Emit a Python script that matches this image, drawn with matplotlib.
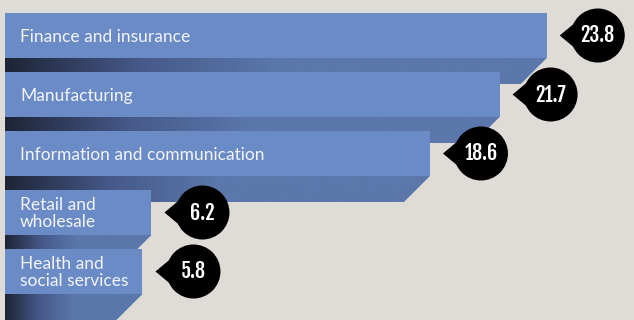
import numpy as np
import matplotlib.pyplot as plt
from matplotlib.patches import Polygon, Ellipse
from matplotlib.colors import LinearSegmentedColormap

# share of employment by sector (%)
sectors = ["Finance and insurance", "Manufacturing", "Information and communication",
           "Retail and\nwholesale", "Health and\nsocial services"]
shares = np.array([23.8, 21.7, 18.6, 6.2, 5.8])
share_labels = ["23.8", "21.7", "18.6", "6.2", "5.8"]

W, H = 634, 320
K = 22.46          # pixels per percentage point
zero_px = 12.2     # pixel column of the value 0
start_px = 5       # bars are padded slightly left of zero
pad = (zero_px - start_px) / K

row_top = 13
row_step = 59
bar_h = 45
depth = 26         # height of the bevel strip under each bar

bg = "#dfdcd7"
bar_blue = "#6a8bc6"
shade_end = "#5b77ab"
shade_dark = "#1e2436"
shade_cmap = LinearSegmentedColormap.from_list("shade", [shade_dark, "#46598a", shade_end])

label_font = ["Lato", "DejaVu Sans"]
value_font = ["Fjalla One", "Oswald", "DejaVu Sans"]

fig = plt.figure(figsize=(W / 100, H / 100), dpi=100)
fig.patch.set_facecolor(bg)
ax = fig.add_axes([0, 0, 1, 1])
ax.set_facecolor(bg)
ax.axis("off")

xlim = (-zero_px / K, (W - zero_px) / K)
ylim = (H, 0)

centers = row_top + row_step * np.arange(len(shares)) + bar_h / 2

# bevel strips with a dark-to-blue gradient
grad = np.clip(np.linspace(0, 1, 512) / 0.5, 0, 1)[None, :]
for c, v in zip(centers, shares):
    y0 = c + bar_h / 2
    y1 = y0 + depth
    cham = depth / K
    poly = Polygon([(-pad, y0), (v, y0), (v - cham, y1), (-pad, y1)],
                   closed=True, facecolor="none", edgecolor="none")
    ax.add_patch(poly)
    im = ax.imshow(grad, cmap=shade_cmap, aspect="auto", vmin=0, vmax=1,
                   extent=(-pad, v, y1, y0), zorder=1, interpolation="bilinear")
    im.set_clip_path(poly)

ax.barh(centers, shares + pad, left=-pad, height=bar_h, color=bar_blue, zorder=3)

label_x = (20 - zero_px) / K
for c, name in zip(centers, sectors):
    ax.text(label_x, c + 1, name, color="#f2f4fa",
            fontsize=12.5, family=label_font, va="center", ha="left",
            linespacing=1.1, zorder=4)

# value bubbles with a pointer towards the bar end
r = 27
for c, v, lab in zip(centers, shares, share_labels):
    cx = v + 51 / K
    ax.add_patch(Ellipse((cx, c), 2 * r / K, 2 * r, facecolor="black", zorder=5))
    ax.add_patch(Polygon([(v + 13 / K, c), (cx - 20 / K, c - 15), (cx - 20 / K, c + 15)],
                         closed=True, facecolor="black", edgecolor="none", zorder=5))
    ax.text(cx, c, lab, color="white", fontsize=14.5,
            family=value_font, ha="center", va="center", zorder=6)

ax.set_xlim(*xlim)
ax.set_ylim(*ylim)

fig.savefig("out.png", dpi=100, facecolor=bg)
